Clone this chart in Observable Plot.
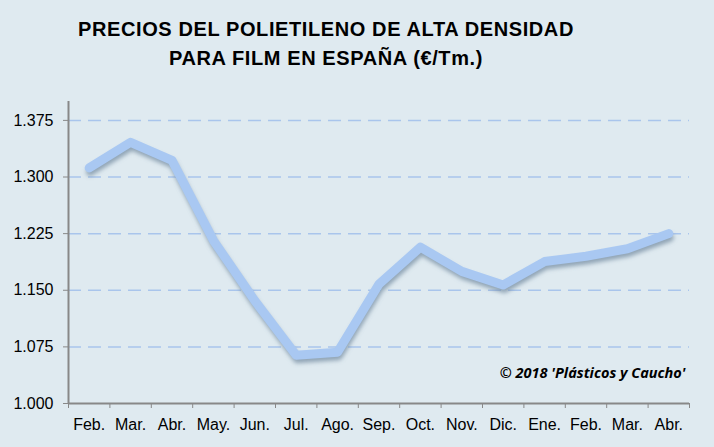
<!DOCTYPE html>
<html>
<head>
<meta charset="utf-8">
<script src="https://cdn.jsdelivr.net/npm/d3@7"></script>
<script src="https://cdn.jsdelivr.net/npm/@observablehq/plot@0.6"></script>
<style>
  html, body { margin: 0; padding: 0; background: #dfeaf0; }
  body { width: 714px; height: 447px; overflow: hidden; }
  #title {
    width: 652px; padding-right: 62px; text-align: center;
    font-family: "Liberation Sans", Arial, sans-serif; font-weight: bold;
    font-size: 20px; letter-spacing: 0.6px; line-height: 29px; color: #000;
    padding-top: 15px; height: 70px; box-sizing: content-box;
  }
</style>
</head>
<body>
<div id="title">PRECIOS DEL POLIETILENO DE ALTA DENSIDAD<br>PARA FILM EN ESPAÑA (€/Tm.)</div>
<div id="chart"></div>
<script>
const months = ["Feb.", "Mar.", "Abr.", "May.", "Jun.", "Jul.", "Ago.", "Sep.", "Oct.", "Nov.", "Dic.", "Ene.", "Feb.", "Mar.", "Abr."];
const prices = [1.312, 1.346, 1.322, 1.216, 1.136, 1.064, 1.068, 1.158, 1.207, 1.175, 1.157, 1.188, 1.195, 1.205, 1.225];
const yTicks = [1.000, 1.075, 1.150, 1.225, 1.300, 1.375];
const caption = "© 2018 'Plásticos y Caucho'";

const data = prices.map((v, i) => ({i, v}));
const idx = months.map((_, i) => i);
const bounds = d3.range(months.length + 1).map(i => i - 0.5);

const plot = Plot.plot({
  width: 714,
  height: 362,
  marginLeft: 68,
  marginRight: 25,
  marginTop: 16,
  marginBottom: 44,
  style: {background: "transparent", fontFamily: "'Liberation Sans', Arial, sans-serif", fontSize: "16px", color: "#000"},
  x: {type: "linear", domain: [-0.5, months.length - 0.5], axis: null},
  y: {domain: [1.0, 1.4], axis: null},
  marks: [
    Plot.gridY(yTicks.slice(1), {stroke: "#a9c5ec", strokeOpacity: 1, strokeWidth: 1.5, strokeDasharray: "13,7"}),
    Plot.axisY(yTicks, {label: null, tickFormat: d3.format(".3f"), tickSize: 5, tickPadding: 10, stroke: "#888", fill: "#000", fontSize: 16}),
    Plot.axisX(bounds, {label: null, tickFormat: () => "", tickSize: 5, stroke: "#888"}),
    Plot.axisX(idx, {label: null, tickFormat: i => months[i], tickSize: 0, tickPadding: 15, fill: "#000", fontSize: 16}),
    Plot.ruleX([-0.5], {y1: 1.0, y2: 1.4, stroke: "#888", strokeWidth: 2}),
    Plot.ruleY([1.0], {stroke: "#888", strokeWidth: 2}),
    Plot.line(data, {x: "i", y: "v", stroke: "#6d869c", strokeWidth: 8, strokeOpacity: 0.7, dy: 4, dx: 1}),
    Plot.line(data, {x: "i", y: "v", stroke: "#a9c8f2", strokeWidth: 9}),
    Plot.text([caption], {frameAnchor: "bottom-right", dx: -4, dy: -26, fontFamily: "'Open Sans', sans-serif", fontWeight: "bold", fontStyle: "italic", fontSize: 14.5, fill: "#000"})
  ]
});
const svg = d3.select(plot);
svg.insert("defs", ":first-child")
  .append("filter").attr("id", "shadowBlur")
  .attr("x", "-10%").attr("y", "-10%").attr("width", "120%").attr("height", "130%")
  .append("feGaussianBlur").attr("stdDeviation", 2.2);
svg.selectAll("[stroke='#6d869c']").attr("filter", "url(#shadowBlur)");
document.getElementById("chart").appendChild(plot);
</script>
</body>
</html>
